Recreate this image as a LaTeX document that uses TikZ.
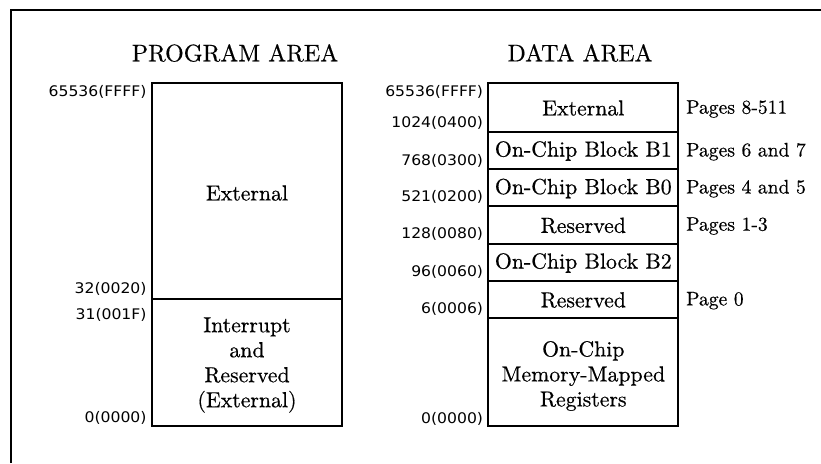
\documentclass[tikz,border=0pt]{standalone}
\usepackage{fontspec}
\setmainfont{lmroman10-regular}[Extension=.otf, FakeBold=0.5]
\newfontfamily\labelfont{DejaVu Sans}[FakeStretch=1.07]
\begin{document}
\begin{tikzpicture}[x=1pt,y=-1pt,
  frame/.style={line width=2pt},
  seg/.style={draw, line width=1.8pt},
  title/.style={font=\fontsize{24}{26}\selectfont, inner sep=0pt},
  boxtext/.style={font=\fontsize{21.8}{25}\selectfont, align=center, inner sep=0pt},
  addr/.style={font=\labelfont\fontsize{14.6}{16}\selectfont, anchor=east, inner sep=0pt},
  pagelbl/.style={font=\fontsize{19.6}{22}\selectfont, anchor=west, inner sep=0pt}]
\useasboundingbox (0,0) rectangle (821,463);
% frame
\coordinate (fbl) at (11,463);
\coordinate (ftl) at (11,10);
\coordinate (ftr) at (821,10);
\draw[frame] (fbl) -- (ftl) -- (ftr);
% titles
\node[title] (ptitle) at (235,53) {PROGRAM AREA};
\node[title] (dtitle) at (580,53) {DATA AREA};
% program area
\draw[seg] (151.7,83.3) rectangle (342.3,299.3);
\draw[seg] (151.7,299.3) rectangle (342.3,425.7);
\node[boxtext] (pext) at (247,193) {External};
\node[boxtext] (pint) at (247,365) {Interrupt\\and\\Reserved\\(External)};
\node[addr] (pa1) at (146.7,91.7) {65536(FFFF)};
\node[addr] (pa2) at (146.7,289.3) {32(0020)};
\node[addr] (pa3) at (146.7,315) {31(001F)};
\node[addr] (pa4) at (146.7,417.7) {0(0000)};
% data area
\draw[seg] (488.3,83.3) rectangle (678.3,131.7);
\draw[seg] (488.3,131.7) rectangle (678.3,169);
\draw[seg] (488.3,169) rectangle (678.3,206.3);
\draw[seg] (488.3,206.3) rectangle (678.3,243.7);
\draw[seg] (488.3,243.7) rectangle (678.3,281);
\draw[seg] (488.3,281) rectangle (678.3,318.3);
\draw[seg] (488.3,318.3) rectangle (678.3,425.7);
\node[boxtext] (dext) at (583.3,108) {External};
\node[boxtext] (db1) at (583.3,151) {On-Chip Block B1};
\node[boxtext] (db0) at (583.3,188.5) {On-Chip Block B0};
\node[boxtext] (dres1) at (583.3,225.5) {Reserved};
\node[boxtext] (db2) at (583.3,263) {On-Chip Block B2};
\node[boxtext] (dres0) at (583.3,300) {Reserved};
\node[boxtext] (dmmr) at (583.3,376) {On-Chip\\Memory-Mapped\\Registers};
\node[addr] (da1) at (483.3,91.7) {65536(FFFF)};
\node[addr] (da2) at (483.3,123.3) {1024(0400)};
\node[addr] (da3) at (483.3,160.7) {768(0300)};
\node[addr] (da4) at (483.3,197.3) {521(0200)};
\node[addr] (da5) at (483.3,234.3) {128(0080)};
\node[addr] (da6) at (483.3,272.3) {96(0060)};
\node[addr] (da7) at (483.3,309.3) {6(0006)};
\node[addr] (da8) at (483.3,419) {0(0000)};
\node[pagelbl] (pg1) at (686,109) {Pages 8-511};
\node[pagelbl] (pg2) at (686,151.7) {Pages 6 and 7};
\node[pagelbl] (pg3) at (686,188.7) {Pages 4 and 5};
\node[pagelbl] (pg4) at (686,226) {Pages 1-3};
\node[pagelbl] (pg5) at (686,300.7) {Page 0};
\end{tikzpicture}
\end{document}
